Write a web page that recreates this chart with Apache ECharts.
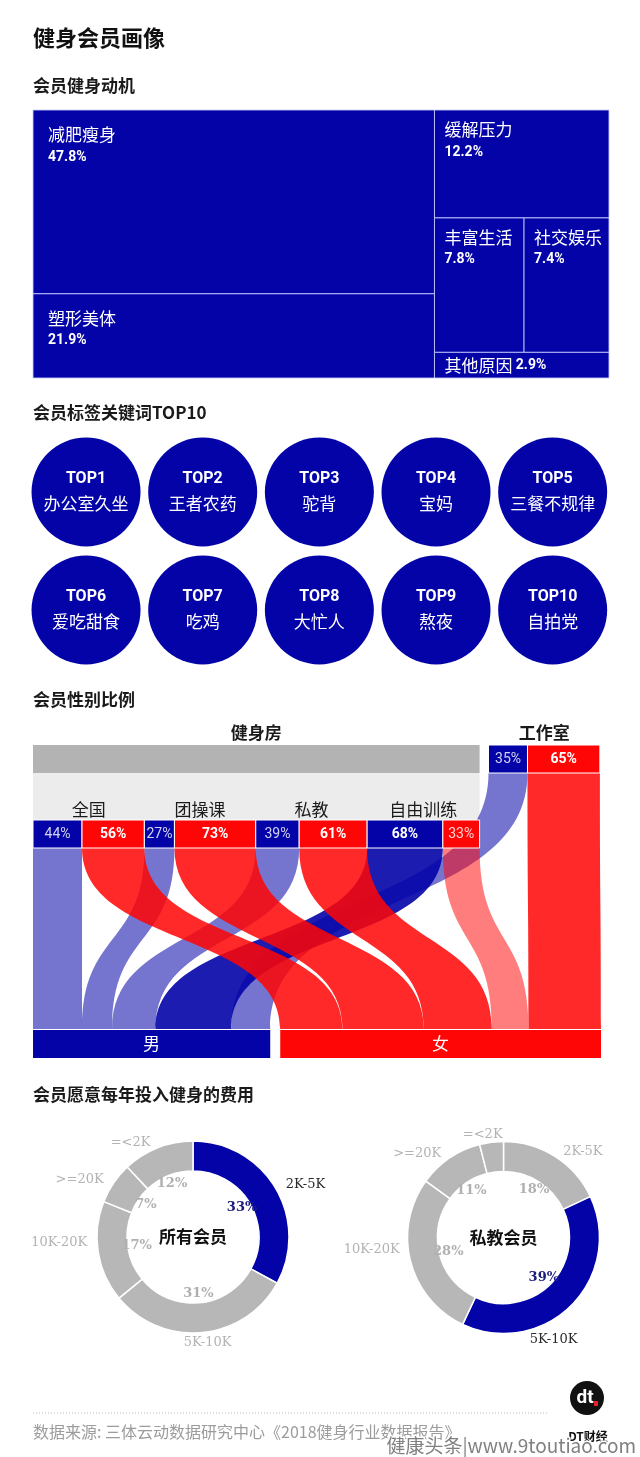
<!DOCTYPE html>
<html>
<head>
<meta charset="utf-8">
<title>健身会员画像</title>
<script src="https://cdn.jsdelivr.net/npm/echarts@6.0.0/dist/echarts.min.js"></script>
<style>
html,body{margin:0;padding:0;background:#ffffff;}
#chart{width:640px;height:1457px;}
</style>
</head>
<body>
<div id="chart"></div>
<script>
// ================= DATA =================
const pageTitle = '健身会员画像';
const sectionTitles = ['会员健身动机', '会员标签关键词TOP10', '会员性别比例', '会员愿意每年投入健身的费用'];

// 会员健身动机 (%)
const motiveNames = ['减肥瘦身', '塑形美体', '缓解压力', '丰富生活', '社交娱乐', '其他原因'];
const motiveValues = [47.8, 21.9, 12.2, 7.8, 7.4, 2.9];

// 会员标签关键词TOP10
const tagRanks = ['TOP1', 'TOP2', 'TOP3', 'TOP4', 'TOP5', 'TOP6', 'TOP7', 'TOP8', 'TOP9', 'TOP10'];
const tagNames = ['办公室久坐', '王者农药', '驼背', '宝妈', '三餐不规律', '爱吃甜食', '吃鸡', '大忙人', '熬夜', '自拍党'];

// 会员性别比例 (%)
const venueNames = ['健身房', '工作室'];
const gymGroups = ['全国', '团操课', '私教', '自由训练'];
const gymMale = [44, 27, 39, 68];
const gymFemale = [56, 73, 61, 33];
const studioMale = 35;
const studioFemale = 65;
const genderNames = ['男', '女'];

// 会员愿意每年投入健身的费用 (%)
const spendCats = ['2K-5K', '5K-10K', '10K-20K', '>=20K', '=<2K'];
const spendAll = [33, 31, 17, 7, 12];
const spendPT = [18, 39, 28, 11, 4];
const donutNames = ['所有会员', '私教会员'];

const sourceNote = '数据来源: 三体云动数据研究中心《2018健身行业数据报告》';
const brandName = 'DT财经';
const siteMark = '健康头条|www.9toutiao.com';

// ================= STYLE / LAYOUT =================
const BLUE = '#0303a8';
const RED = '#ff0606';
const GRAY = '#b7b7b7';
const CJK = "'Noto Sans CJK SC', sans-serif";
const LAT = "Roboto, 'Noto Sans CJK SC', sans-serif";
const SERIF = "'DejaVu Serif', serif";

// ---- treemap layout (slice & dice computed from values) ----
function motiveLayout(v) {
  const total = v.reduce((a, b) => a + b, 0);
  const leftSum = v[0] + v[1];
  const rightSum = total - leftSum;
  const lw = leftSum / total * 100;
  const h0 = v[0] / leftSum * 100;
  const hA = v[2] / rightSum * 100;
  const hB = (v[3] + v[4]) / rightSum * 100;
  const ws = v[3] / (v[3] + v[4]) * (100 - lw);
  return [
    [0, 0, lw, h0],
    [0, h0, lw, 100],
    [lw, 0, 100, hA],
    [lw, hA, lw + ws, hA + hB],
    [lw + ws, hA, 100, hA + hB],
    [lw, hA + hB, 100, 100]
  ];
}
const motiveRects = motiveLayout(motiveValues);

// ---- gender flow layout (units = percentage points horizontally, px vertically) ----
const GYM_GAP = 8, SEX_GAP = 9;
const YL = { bandMid: 28, boxTop: 75, boxBot: 103, studioBot: 28, flowBot: 284, barTop: 285, barBot: 313 };
const venueData = [], groupData = [], boxData = [], flowData = [];
const maleSrc = [], femaleSrc = [];
let cx = 0;
gymGroups.forEach((g, i) => {
  const m = gymMale[i], f = gymFemale[i];
  groupData.push([cx, cx + m + f, i]);
  boxData.push([cx, cx + m, YL.boxTop, YL.boxBot, m, 0, m > f ? 1 : 0]);
  boxData.push([cx + m, cx + m + f, YL.boxTop, YL.boxBot, f, 1, f > m ? 1 : 0]);
  maleSrc.push([cx, cx + m, YL.boxBot, m > f ? 1 : 0]);
  femaleSrc.push([cx + m, cx + m + f, YL.boxBot, f > m ? 1 : 0]);
  cx += m + f;
});
venueData.push([0, cx, 0]);
const sx0 = cx + GYM_GAP;
boxData.push([sx0, sx0 + studioMale, 0, YL.studioBot, studioMale, 0, studioMale > studioFemale ? 1 : 0]);
boxData.push([sx0 + studioMale, sx0 + studioMale + studioFemale, 0, YL.studioBot, studioFemale, 1, studioFemale > studioMale ? 1 : 0]);
maleSrc.push([sx0, sx0 + studioMale, YL.studioBot, studioMale > studioFemale ? 1 : 0]);
femaleSrc.push([sx0 + studioMale, sx0 + studioMale + studioFemale, YL.studioBot, studioFemale > studioMale ? 1 : 0]);
venueData.push([sx0, sx0 + studioMale + studioFemale, 1]);
let mx = 0;
maleSrc.forEach(s => { const w = s[1] - s[0]; flowData.push([s[0], s[1], s[2], mx, mx + w, YL.flowBot, 0, s[3]]); mx += w; });
let fx = mx + SEX_GAP;
const femaleStart = fx;
femaleSrc.forEach(s => { const w = s[1] - s[0]; flowData.push([s[0], s[1], s[2], fx, fx + w, YL.flowBot, 1, s[3]]); fx += w; });
const genderData = [[0, mx, 0], [femaleStart, fx, 1]];
const xMaxGender = Math.max(fx, sx0 + studioMale + studioFemale);

// ================= RENDERERS =================
function rectFrom(api, x0, y0, x1, y1) {
  const p0 = api.coord([x0, y0]), p1 = api.coord([x1, y1]);
  return { x: p0[0], y: p0[1], width: p1[0] - p0[0], height: p1[1] - p0[1] };
}

function renderMotive(params, api) {
  const i = api.value(0);
  const r = motiveRects[i];
  const s = rectFrom(api, r[0], r[1], r[2], r[3]);
  const big = s.width > 300;
  const padX = big ? 15 : 10, padY = big ? 14 : 9;
  const rich = {
    n: { fontSize: 17, fontFamily: CJK, fill: '#fff', lineHeight: 22 },
    v: { fontSize: 14, fontFamily: LAT, fontWeight: 'bold', fill: '#fff', lineHeight: 22 }
  };
  const children = [{
    type: 'rect', shape: s,
    style: { fill: BLUE, stroke: 'rgba(200,205,255,0.85)', lineWidth: 1 }
  }];
  if (s.height < 40) {
    children.push({
      type: 'text', x: s.x + padX, y: s.y + s.height / 2,
      style: { text: '{n|' + motiveNames[i] + '} {v|' + motiveValues[i] + '%}', rich: rich, fill: '#fff',
        verticalAlign: 'middle', textVerticalAlign: 'middle' }
    });
  } else {
    children.push({
      type: 'text', x: s.x + padX, y: s.y + padY,
      style: { text: '{n|' + motiveNames[i] + '}\n{v|' + motiveValues[i] + '%}', rich: rich, fill: '#fff',
        verticalAlign: 'top', textVerticalAlign: 'top' }
    });
  }
  return { type: 'group', children: children };
}

function renderVenue(params, api) {
  const x0 = api.value(0), x1 = api.value(1), k = api.value(2);
  const children = [];
  const c = api.coord([(x0 + x1) / 2, -12]);
  children.push({
    type: 'text', x: c[0], y: c[1],
    style: { text: venueNames[k], font: 'bold 17px ' + CJK, fill: '#1a1a1a',
      align: 'center', textAlign: 'center', verticalAlign: 'middle', textVerticalAlign: 'middle' }
  });
  if (k === 0) {
    children.push({ type: 'rect', shape: rectFrom(api, x0, 0, x1, YL.bandMid), style: { fill: '#b3b3b3' } });
    children.push({ type: 'rect', shape: rectFrom(api, x0, YL.bandMid, x1, YL.boxTop), style: { fill: '#ececec' } });
  }
  return { type: 'group', children: children };
}

function renderGroup(params, api) {
  const x0 = api.value(0), x1 = api.value(1), k = api.value(2);
  const c = api.coord([(x0 + x1) / 2, YL.boxTop - 10]);
  return {
    type: 'text', x: c[0], y: c[1],
    style: { text: gymGroups[k], font: '17px ' + CJK, fill: '#1a1a1a',
      align: 'center', textAlign: 'center', verticalAlign: 'middle', textVerticalAlign: 'middle' }
  };
}

function renderBox(params, api) {
  const x0 = api.value(0), x1 = api.value(1), y0 = api.value(2), y1 = api.value(3);
  const pct = api.value(4), sex = api.value(5), major = api.value(6);
  const s = rectFrom(api, x0, y0, x1, y1);
  return {
    type: 'group', children: [
      { type: 'rect', shape: s, style: { fill: sex === 0 ? BLUE : RED, stroke: '#fff', lineWidth: 1 } },
      { type: 'text', x: s.x + s.width / 2, y: s.y + s.height / 2,
        style: { text: pct + '%', font: (major ? 'bold ' : '') + '14px ' + LAT,
          fill: major ? '#fff' : 'rgba(255,255,255,0.82)',
          align: 'center', textAlign: 'center', verticalAlign: 'middle', textVerticalAlign: 'middle' } }
    ]
  };
}

function renderFlow(params, api) {
  const t0 = api.coord([api.value(0), api.value(2)]);
  const t1 = api.coord([api.value(1), api.value(2)]);
  const b0 = api.coord([api.value(3), api.value(5)]);
  const b1 = api.coord([api.value(4), api.value(5)]);
  const sex = api.value(6), major = api.value(7);
  const h = b0[1] - t0[1], k = 0.55;
  const d = 'M' + t0[0] + ',' + t0[1] +
    ' C' + t0[0] + ',' + (t0[1] + k * h) + ' ' + b0[0] + ',' + (b0[1] - k * h) + ' ' + b0[0] + ',' + b0[1] +
    ' L' + b1[0] + ',' + b1[1] +
    ' C' + b1[0] + ',' + (b1[1] - k * h) + ' ' + t1[0] + ',' + (t1[1] + k * h) + ' ' + t1[0] + ',' + t1[1] + ' Z';
  let fill;
  if (sex === 0) fill = major ? 'rgba(3,3,168,0.9)' : 'rgba(3,3,168,0.55)';
  else fill = major ? 'rgba(255,6,6,0.86)' : 'rgba(255,6,6,0.52)';
  return { type: 'path', shape: { pathData: d }, style: { fill: fill } };
}

function renderGender(params, api) {
  const x0 = api.value(0), x1 = api.value(1), k = api.value(2);
  const s = rectFrom(api, x0, YL.barTop, x1, YL.barBot);
  return {
    type: 'group', children: [
      { type: 'rect', shape: s, style: { fill: k === 0 ? BLUE : RED } },
      { type: 'text', x: s.x + s.width / 2, y: s.y + s.height / 2,
        style: { text: genderNames[k], font: '17px ' + CJK, fill: '#fff',
          align: 'center', textAlign: 'center', verticalAlign: 'middle', textVerticalAlign: 'middle' } }
    ]
  };
}

// ---- donuts ----
const donutCenters = [[193, 1237], [503.5, 1237.5]];
function donutSeries(values, center, tweaks) {
  const maxI = values.indexOf(Math.max.apply(null, values));
  return [{
    type: 'pie', center: center, radius: [66, 96], startAngle: 90, clockwise: true,
    silent: true, avoidLabelOverlap: false,
    itemStyle: { borderColor: '#fff', borderWidth: 1.5 },
    label: { show: true, position: 'outside', formatter: '{b}', fontFamily: SERIF, fontSize: 13 },
    labelLine: { show: false, length: 6, length2: 0 },
    labelLayout: function (p) { return tweaks[p.dataIndex] || {}; },
    data: spendCats.map((c, i) => ({
      name: c, value: values[i],
      itemStyle: { color: i === maxI ? BLUE : GRAY },
      label: { color: i === maxI ? '#2a2a2a' : '#b3b3b3' }
    }))
  }, {
    type: 'pie', center: center, radius: [38, 70], startAngle: 90, clockwise: true,
    silent: true, avoidLabelOverlap: false,
    itemStyle: { color: 'rgba(0,0,0,0)', borderWidth: 0 },
    label: { show: true, position: 'inside', formatter: '{c}%', fontFamily: SERIF, fontWeight: 'bold', fontSize: 13 },
    labelLine: { show: false },
    data: spendCats.map((c, i) => ({
      name: c, value: values[i],
      label: { color: i === maxI ? '#1c1c7e' : '#b0b0b0' }
    }))
  }];
}

// ================= GRAPHICS (titles, footer) =================
function txt(x, y, text, font, fill, align, extra) {
  return {
    type: 'text', x: x, y: y, silent: true,
    style: Object.assign({ text: text, font: font, fill: fill,
      align: align || 'left', textAlign: align || 'left', verticalAlign: 'middle', textVerticalAlign: 'middle' }, extra || {})
  };
}
const sectionY = [86, 413, 700, 1095];
const graphics = [
  txt(33, 38, pageTitle, 'bold 22px ' + CJK, '#111'),
  ...sectionTitles.map((t, i) => txt(33, sectionY[i], t, 'bold 17px ' + CJK, '#1a1a1a')),
  ...donutNames.map((t, i) => txt(donutCenters[i][0], donutCenters[i][1], t, 'bold 17px ' + CJK, '#111', 'center')),
  { type: 'line', silent: true, shape: { x1: 33, y1: 1413, x2: 548, y2: 1413 }, style: { stroke: '#bdbdbd', lineWidth: 1, lineDash: [1, 2] } },
  txt(33, 1432, sourceNote, '16px ' + CJK, '#9c9c9c'),
  { type: 'circle', silent: true, shape: { cx: 587, cy: 1398, r: 17 }, style: { fill: '#111' } },
  txt(585, 1398, 'dt', 'bold 19px ' + LAT, '#fff', 'center'),
  { type: 'rect', silent: true, shape: { x: 594, y: 1401, width: 4, height: 5 }, style: { fill: '#e8202a' } },
  txt(588, 1436, brandName, 'bold 12px ' + CJK, '#111', 'center'),
  txt(636, 1446, siteMark, '19px ' + CJK, '#808080', 'right', { stroke: '#fff', lineWidth: 3 })
];

// ================= OPTION =================
const option = {
  backgroundColor: '#ffffff',
  animation: false,
  grid: [
    { left: 33, top: 110, width: 576, height: 268 },
    { left: 27.7, top: 433, width: 583.3, height: 236 },
    { left: 33, top: 745, width: 568, height: 313 }
  ],
  xAxis: [
    { gridIndex: 0, type: 'value', min: 0, max: 100, show: false },
    { gridIndex: 1, type: 'category', data: ['c0', 'c1', 'c2', 'c3', 'c4'], show: false },
    { gridIndex: 2, type: 'value', min: 0, max: xMaxGender, show: false }
  ],
  yAxis: [
    { gridIndex: 0, type: 'value', min: 0, max: 100, inverse: true, show: false },
    { gridIndex: 1, type: 'category', data: ['r0', 'r1'], inverse: true, show: false },
    { gridIndex: 2, type: 'value', min: 0, max: 313, inverse: true, show: false }
  ],
  graphic: graphics,
  series: [
    {
      type: 'custom', name: '会员健身动机', xAxisIndex: 0, yAxisIndex: 0, clip: false, silent: true,
      renderItem: renderMotive,
      encode: { x: 0, y: 1 },
      data: motiveValues.map((v, i) => [i, v])
    },
    {
      type: 'scatter', name: '会员标签关键词', xAxisIndex: 1, yAxisIndex: 1, silent: true,
      symbol: 'circle', symbolSize: 109,
      itemStyle: { color: BLUE, opacity: 1 },
      label: {
        show: true, position: 'inside',
        formatter: p => '{t|' + tagRanks[p.dataIndex] + '}\n{n|' + tagNames[p.dataIndex] + '}',
        rich: {
          t: { fontFamily: LAT, fontWeight: 'bold', fontSize: 16, color: '#fff', lineHeight: 24, align: 'center' },
          n: { fontFamily: CJK, fontSize: 17, color: '#fff', lineHeight: 26, align: 'center' }
        }
      },
      data: tagNames.map((n, i) => [i % 5, Math.floor(i / 5)])
    },
    {
      type: 'custom', name: 'venues', xAxisIndex: 2, yAxisIndex: 2, clip: false, silent: true,
      renderItem: renderVenue, encode: { x: [0, 1] }, data: venueData
    },
    {
      type: 'custom', name: 'groups', xAxisIndex: 2, yAxisIndex: 2, clip: false, silent: true,
      renderItem: renderGroup, encode: { x: [0, 1] }, data: groupData
    },
    {
      type: 'custom', name: 'flows', xAxisIndex: 2, yAxisIndex: 2, clip: false, silent: true,
      renderItem: renderFlow, encode: { x: [0, 1, 3, 4], y: [2, 5] }, data: flowData
    },
    {
      type: 'custom', name: 'boxes', xAxisIndex: 2, yAxisIndex: 2, clip: false, silent: true,
      renderItem: renderBox, encode: { x: [0, 1], y: [2, 3] }, data: boxData
    },
    {
      type: 'custom', name: 'gender', xAxisIndex: 2, yAxisIndex: 2, clip: false, silent: true,
      renderItem: renderGender, encode: { x: [0, 1] }, data: genderData
    },
    ...donutSeries(spendAll, donutCenters[0], { 1: { align: 'center', dy: 4 }, 2: { dy: -10 } }),
    ...donutSeries(spendPT, donutCenters[1], { 1: { align: 'center', dx: -27, dy: 30 }, 2: { dy: -13 }, 4: { align: 'center', dx: -3, dy: -2 } })
  ]
};

const chart = echarts.init(document.getElementById('chart'), null, { renderer: 'canvas', width: 640, height: 1457 });
chart.setOption(option);
</script>
</body>
</html>
